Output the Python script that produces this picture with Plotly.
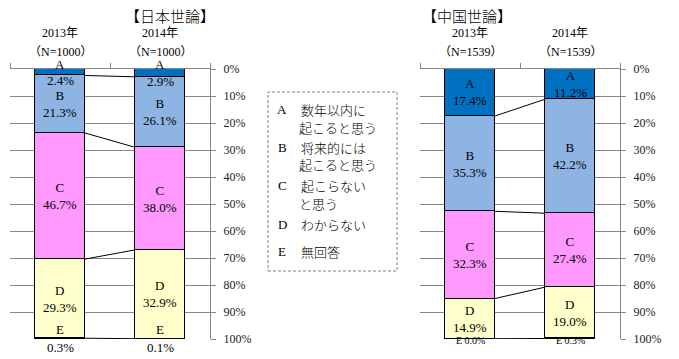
import plotly.graph_objects as go

# ---------------- data ----------------
series = ["A", "B", "C", "D", "E"]
years = ["2013年", "2014年"]
jp_n = "（N=1000）"
cn_n = "（N=1539）"
jp_2013 = [2.4, 21.3, 46.7, 29.3, 0.3]
jp_2014 = [2.9, 26.1, 38.0, 32.9, 0.1]
cn_2013 = [17.4, 35.3, 32.3, 14.9, 0.0]
cn_2014 = [11.2, 42.2, 27.4, 19.0, 0.3]
colors = ["#0070C0", "#8DB4E2", "#FF99FF", "#FFFFCC", "#FFFFFF"]
tick_vals = [0, 10, 20, 30, 40, 50, 60, 70, 80, 90, 100]
legend_lines = [
    ("A", ["数年以内に", "起こると思う"]),
    ("B", ["将来的には", "起こると思う"]),
    ("C", ["起こらない", "と思う"]),
    ("D", ["わからない"]),
    ("E", ["無回答"]),
]
# label placement style per segment (A..E)
jp_modes = ["split", "mid", "mid", "mid", "below"]
cn_modes = ["mid", "mid", "mid", "mid", "inline"]

W, H = 679, 359
SERIF = "Liberation Serif, Noto Sans CJK JP, serif"
SANS = "Noto Sans CJK JP, sans-serif"
GRAY = "#868686"

fig = go.Figure()

panels = [
    ("x", "y", jp_2013, jp_2014, jp_modes, jp_n),
    ("x2", "y2", cn_2013, cn_2014, cn_modes, cn_n),
]

def cum(vals):
    out = [0.0]
    for v in vals:
        out.append(out[-1] + v)
    return out

annotations = []
for xa, ya, v13, v14, modes, ntext in panels:
    for i, s in enumerate(series):
        fig.add_trace(go.Bar(
            x=[0, 1], y=[v13[i], v14[i]], width=0.5,
            marker=dict(color=colors[i], line=dict(color="black", width=1)),
            xaxis=xa, yaxis=ya, showlegend=False, hoverinfo="skip",
        ))
    c13, c14 = cum(v13), cum(v14)
    # connector lines between the bars
    for k in range(1, 5):
        fig.add_trace(go.Scatter(
            x=[0.25, 0.75], y=[c13[k], c14[k]], mode="lines",
            line=dict(color="black", width=1), xaxis=xa, yaxis=ya,
            showlegend=False, hoverinfo="skip",
        ))
    # segment labels
    for xi, (vals, cc) in enumerate([(v13, c13), (v14, c14)]):
        for i, s in enumerate(series):
            v = vals[i]
            mode = modes[i]
            base = dict(xref=xa, yref=ya, x=xi, showarrow=False,
                        font=dict(family=SERIF, size=13, color="black"))
            if mode == "mid":
                annotations.append(dict(base, y=(cc[i] + cc[i + 1]) / 2,
                                        text=f"{s}<br>{v:.1f}%", yanchor="middle"))
            elif mode == "split":
                annotations.append(dict(base, y=cc[i], text=s, yanchor="middle", yshift=5))
                annotations.append(dict(base, y=cc[i + 1], text=f"{v:.1f}%",
                                        yanchor="middle", yshift=-5))
            elif mode == "below":
                annotations.append(dict(base, y=100, text=s, yanchor="middle", yshift=10))
                annotations.append(dict(base, y=100, text=f"{v:.1f}%",
                                        yanchor="middle", yshift=-8))
            elif mode == "inline":
                b = dict(base)
                b["font"] = dict(family=SERIF, size=10, color="black")
                annotations.append(dict(b, y=100, text=f"{s} {v:.1f}%",
                                        yanchor="middle", yshift=-1))
    # year headers
    for xi, yr in enumerate(years):
        annotations.append(dict(xref=xa, yref="paper", x=xi, y=1 - 33 / H, text=yr,
                                showarrow=False, yanchor="middle",
                                font=dict(family=SERIF, size=12, color="black")))
        annotations.append(dict(xref=xa, yref="paper", x=xi, y=1 - 52 / H, text=ntext,
                                showarrow=False, yanchor="middle",
                                font=dict(family=SERIF, size=12, color="black")))

# titles
annotations.append(dict(xref="paper", yref="paper", x=123 / W, y=1 - 15 / H,
                        text="【日本世論】", showarrow=False, yanchor="middle",
                        font=dict(family=SANS, size=15, color="black", weight=300)))
annotations.append(dict(xref="paper", yref="paper", x=514 / W, y=1 - 15 / H,
                        text="【中国世論】", showarrow=False, yanchor="middle",
                        font=dict(family=SANS, size=15, color="black", weight=300)))

# legend box text
ly = [109, 127, 147, 165, 185, 203, 224, 251]
row = 0
for letter, lines in legend_lines:
    annotations.append(dict(xref="paper", yref="paper", x=282 / W, y=1 - ly[row] / H,
                            text=letter, showarrow=False, xanchor="center", yanchor="middle",
                            font=dict(family=SERIF, size=13, color="black")))
    for j, t in enumerate(lines):
        annotations.append(dict(xref="paper", yref="paper",
                                x=(299 if j == 0 else 297) / W, y=1 - ly[row] / H,
                                text=t, showarrow=False, xanchor="left", yanchor="middle",
                                font=dict(family=SANS, size=13, color="black", weight=300)))
        row += 1

shapes = [dict(type="rect", xref="paper", yref="paper",
               x0=268 / W, x1=397 / W, y0=1 - 271 / H, y1=1 - 92 / H,
               line=dict(color="#808080", width=1, dash="3px,2px"))]

ytop, ybot = 1 - 69 / H, 1 - 339 / H

def xaxis_cfg(d0, d1, anchor):
    return dict(domain=[d0 / W, d1 / W], range=[-0.5, 1.5], anchor=anchor,
                side="top", showline=True, linecolor=GRAY, linewidth=1,
                ticks="outside", ticklen=5, tickcolor=GRAY,
                tickvals=[-0.5, 0.5, 1.5], showticklabels=False, automargin=False,
                showgrid=False, zeroline=False, fixedrange=True)

def yaxis_cfg(anchor):
    return dict(domain=[ybot, ytop], range=[100, 0], anchor=anchor, side="right",
                showline=True, linecolor=GRAY, linewidth=1,
                ticks="outside", ticklen=5, tickcolor=GRAY,
                tickvals=tick_vals, ticktext=[f"{v}%" for v in tick_vals],
                ticklabelstandoff=5, automargin=False,
                showgrid=True, gridcolor=GRAY, gridwidth=1, zeroline=False,
                tickfont=dict(family=SERIF, size=12, color="#222"), fixedrange=True)

fig.update_layout(
    width=W, height=H, margin=dict(l=0, r=0, t=0, b=0, autoexpand=False),
    paper_bgcolor="white", plot_bgcolor="white",
    barmode="stack", bargap=0, showlegend=False,
    xaxis=xaxis_cfg(10, 210, "y"), yaxis=yaxis_cfg("x"),
    xaxis2=xaxis_cfg(420, 620, "y2"), yaxis2=yaxis_cfg("x2"),
    annotations=annotations, shapes=shapes,
)

fig.write_html("out.html", config={"displayModeBar": False},
               post_script="document.body.style.margin='0px';document.body.style.overflow='hidden';")
